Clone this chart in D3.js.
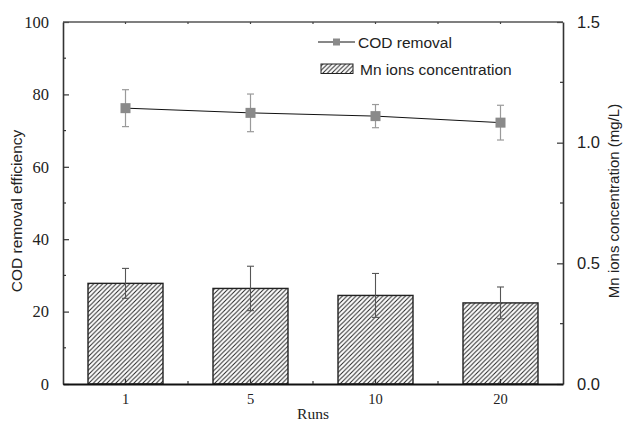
<!DOCTYPE html>
<html>
<head>
<meta charset="utf-8">
<script src="https://cdn.jsdelivr.net/npm/d3@7"></script>
<style>
  body { margin: 0; background: #fff; }
  svg { display: block; }
</style>
</head>
<body>
<svg id="chart" width="625" height="421"></svg>
<script>
// data
const runs = ['1', '5', '10', '20'];
const codRemoval = [76.2, 74.9, 74.0, 72.2];
const codErr = [5.1, 5.2, 3.2, 4.8];
const mnConc = [0.417, 0.396, 0.367, 0.336];
const mnErr = [0.062, 0.092, 0.091, 0.066];
const leftTicks = [0, 20, 40, 60, 80, 100];
const rightTicks = [0.0, 0.5, 1.0, 1.5];

const margin = { top: 22, right: 62, bottom: 37, left: 63 };
const W = 625, H = 421;
const width = W - margin.left - margin.right;
const height = H - margin.top - margin.bottom;

const svg = d3.select('#chart');
const g = svg.append('g').attr('transform', `translate(${margin.left},${margin.top})`);

// hatch pattern
svg.append('defs').append('pattern')
  .attr('id', 'hatch')
  .attr('patternUnits', 'userSpaceOnUse')
  .attr('width', 4.5).attr('height', 4.5)
  .append('path')
  .attr('d', 'M-1,1 l2,-2 M0,4.5 l4.5,-4.5 M3.5,5.5 l2,-2')
  .attr('stroke', '#222')
  .attr('stroke-width', 1);

const x = d3.scaleBand().domain(runs).range([0, width]).padding(0);
const yL = d3.scaleLinear().domain([0, 100]).range([height, 0]);
const yR = d3.scaleLinear().domain([0, 1.5]).range([height, 0]);

const serif = '"Liberation Serif", "Times New Roman", serif';
const sans = '"Liberation Sans", Arial, sans-serif';
const axisColor = '#333';

// bars (right axis)
const barW = x.bandwidth() * 0.6;
g.selectAll('.bar')
  .data(runs)
  .enter()
  .append('rect')
  .attr('class', 'bar')
  .attr('x', d => x(d) + (x.bandwidth() - barW) / 2)
  .attr('width', barW)
  .attr('y', (d, i) => yR(mnConc[i]))
  .attr('height', (d, i) => height - yR(mnConc[i]))
  .attr('fill', 'url(#hatch)')
  .attr('stroke', '#222')
  .attr('stroke-width', 1.4);

// bar error bars
const cx = d => x(d) + x.bandwidth() / 2;
const barErr = g.append('g').attr('stroke', '#555').attr('stroke-width', 1.1);
runs.forEach((d, i) => {
  const top = yR(mnConc[i] + mnErr[i]), bot = yR(mnConc[i] - mnErr[i]);
  barErr.append('line').attr('x1', cx(d)).attr('x2', cx(d)).attr('y1', top).attr('y2', bot);
  barErr.append('line').attr('x1', cx(d) - 3.5).attr('x2', cx(d) + 3.5).attr('y1', top).attr('y2', top);
  barErr.append('line').attr('x1', cx(d) - 3.5).attr('x2', cx(d) + 3.5).attr('y1', bot).attr('y2', bot);
});

// COD line (left axis)
const line = d3.line().x(d => cx(d)).y((d, i) => yL(codRemoval[i]));
g.append('path')
  .datum(runs)
  .attr('d', line)
  .attr('fill', 'none')
  .attr('stroke', '#111')
  .attr('stroke-width', 1);

const codErrG = g.append('g').attr('stroke', '#9a9a9a').attr('stroke-width', 1.2);
runs.forEach((d, i) => {
  const top = yL(codRemoval[i] + codErr[i]), bot = yL(codRemoval[i] - codErr[i]);
  codErrG.append('line').attr('x1', cx(d)).attr('x2', cx(d)).attr('y1', top).attr('y2', bot);
  codErrG.append('line').attr('x1', cx(d) - 3.5).attr('x2', cx(d) + 3.5).attr('y1', top).attr('y2', top);
  codErrG.append('line').attr('x1', cx(d) - 3.5).attr('x2', cx(d) + 3.5).attr('y1', bot).attr('y2', bot);
});

g.selectAll('.pt')
  .data(runs)
  .enter()
  .append('rect')
  .attr('class', 'pt')
  .attr('x', d => cx(d) - 5)
  .attr('y', (d, i) => yL(codRemoval[i]) - 5)
  .attr('width', 10).attr('height', 10)
  .attr('fill', '#8a8a8a');

// axes
const halfTicks = d3.range(0, runs.length * 2 + 1).map(k => k * x.bandwidth() / 2);

function styleAxis(sel) {
  sel.select('.domain').attr('stroke', axisColor).attr('stroke-width', 1.6);
  sel.selectAll('.tick line').attr('stroke', axisColor).attr('stroke-width', 1.2);
}

// left
const leftAxis = g.append('g')
  .call(d3.axisLeft(yL).tickValues(leftTicks).tickSize(-6).tickSizeOuter(0).tickPadding(14));
styleAxis(leftAxis);
leftAxis.selectAll('text').style('font-family', serif).style('font-size', '16.5px').attr('fill', '#222');
g.append('g').selectAll('line')
  .data(d3.range(10, 100, 20))
  .enter().append('line')
  .attr('x1', 0).attr('x2', 3)
  .attr('y1', d => yL(d)).attr('y2', d => yL(d))
  .attr('stroke', axisColor).attr('stroke-width', 1.2);

// right
const rightAxis = g.append('g')
  .attr('transform', `translate(${width},0)`)
  .call(d3.axisRight(yR).tickValues(rightTicks).tickFormat(d3.format('.1f')).tickSize(-6).tickSizeOuter(0).tickPadding(14));
styleAxis(rightAxis);
rightAxis.selectAll('text').style('font-family', sans).style('font-size', '16.5px').attr('fill', '#222');
g.append('g').selectAll('line')
  .data([0.25, 0.75, 1.25])
  .enter().append('line')
  .attr('x1', width).attr('x2', width - 3)
  .attr('y1', d => yR(d)).attr('y2', d => yR(d))
  .attr('stroke', axisColor).attr('stroke-width', 1.2);

// bottom
const bottomAxis = g.append('g')
  .attr('transform', `translate(0,${height})`)
  .call(d3.axisBottom(x).tickSize(-5).tickSizeOuter(0).tickPadding(10));
bottomAxis.select('.domain').attr('stroke', '#111').attr('stroke-width', 2);
bottomAxis.selectAll('.tick line').attr('stroke', axisColor).attr('stroke-width', 1.2);
bottomAxis.selectAll('text').style('font-family', serif).style('font-size', '14.5px').attr('fill', '#222');
g.append('g').selectAll('line')
  .data(halfTicks.filter((t, k) => k % 2 === 0 && k > 0 && k < runs.length * 2))
  .enter().append('line')
  .attr('x1', d => d).attr('x2', d => d)
  .attr('y1', height).attr('y2', height - 3)
  .attr('stroke', axisColor).attr('stroke-width', 1.2);

// top
g.append('line')
  .attr('x1', 0).attr('x2', width).attr('y1', 0).attr('y2', 0)
  .attr('stroke', '#555').attr('stroke-width', 1.6);
g.append('g').selectAll('line')
  .data(halfTicks.slice(1, -1))
  .enter().append('line')
  .attr('x1', d => d).attr('x2', d => d)
  .attr('y1', 0).attr('y2', 2)
  .attr('stroke', '#444').attr('stroke-width', 1.2);

// axis titles
svg.append('text')
  .attr('transform', `translate(22,${margin.top + height / 2 + 8}) rotate(-90)`)
  .attr('text-anchor', 'middle')
  .style('font-family', sans).style('font-size', '15.5px').attr('fill', '#222')
  .text('COD removal efficiency');

svg.append('text')
  .attr('transform', `translate(619,${margin.top + height / 2 - 2}) rotate(-90)`)
  .attr('text-anchor', 'middle')
  .style('font-family', sans).style('font-size', '15px').attr('fill', '#222')
  .text('Mn ions concentration (mg/L)');

svg.append('text')
  .attr('x', margin.left + width / 2)
  .attr('y', 419)
  .attr('text-anchor', 'middle')
  .style('font-family', serif).style('font-size', '15.5px').attr('fill', '#222')
  .text('Runs');

// legend
const lg = svg.append('g');
lg.append('line').attr('x1', 318).attr('x2', 355).attr('y1', 42).attr('y2', 42)
  .attr('stroke', '#111').attr('stroke-width', 1);
lg.append('rect').attr('x', 333).attr('y', 38.5).attr('width', 7).attr('height', 7).attr('fill', '#8a8a8a');
lg.append('text').attr('x', 358).attr('y', 47.5)
  .style('font-family', sans).style('font-size', '15.5px').attr('fill', '#222')
  .text('COD removal');
lg.append('rect').attr('x', 321).attr('y', 64).attr('width', 32).attr('height', 9.5)
  .attr('fill', 'url(#hatch)').attr('stroke', '#222').attr('stroke-width', 1);
lg.append('text').attr('x', 360).attr('y', 75)
  .style('font-family', sans).style('font-size', '15.5px').attr('fill', '#222')
  .text('Mn ions concentration');
</script>
</body>
</html>
